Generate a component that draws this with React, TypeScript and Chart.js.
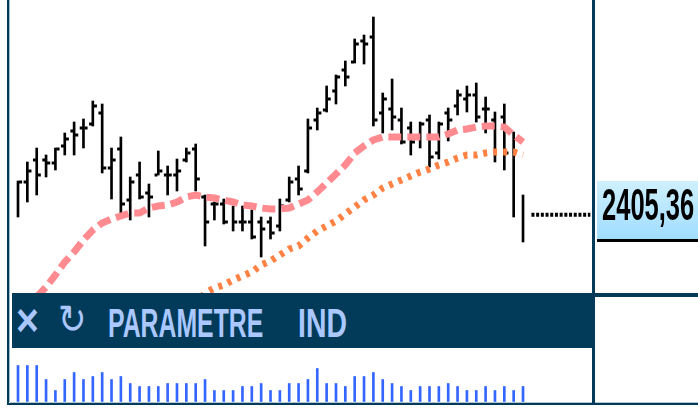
import React, { useEffect, useRef } from "react";
import { Chart, registerables } from "chart.js";

Chart.register(...registerables);

const highs = [2439,2458,2472,2465,2472,2487,2498,2501,2519,2516,2472,2483,2443,2458,2436,2469,2454,2461,2472,2476,2425,2418,2421,2414,2414,2410,2403,2403,2421,2443,2454,2501,2512,2534,2545,2559,2581,2585,2603,2527,2541,2512,2498,2498,2505,2498,2512,2530,2534,2537,2523,2508,2516,2488,2425];
const lows = [2403,2418,2425,2443,2450,2465,2465,2472,2494,2447,2421,2407,2400,2421,2403,2445,2425,2429,2458,2429,2374,2400,2396,2389,2389,2381,2363,2381,2389,2418,2425,2447,2490,2508,2516,2534,2557,2556,2494,2487,2490,2476,2465,2472,2453,2461,2479,2505,2508,2498,2487,2458,2450,2403,2378];
const opens = [null,2438,2460,2460,2457,2474,2489,2492,2496,2507,2452,2471,2420,2445,2427,2445,2445,2445,2460,2471,2423,2416,2416,null,2398,2398,2398,2398,2394,2420,2441,2449,2500,2510,2529,2550,2558,2579,2583,2507,2511,2500,2492,2482,2500,2467,2507,2514,2521,2525,2511,2500,2503,null,null];
const closes = [2438,2449,2445,2457,2471,2481,2485,2492,2514,2452,2460,2416,2438,2423,2423,2449,2445,2449,2467,2441,2398,2416,2398,2398,2398,2383,2391,2387,2414,2438,2431,2492,2507,2521,2543,2543,2576,2576,2500,2521,2503,2478,2478,2496,2463,2496,2500,2525,2525,2503,2511,null,2467,null,null];
const maFast = [null,null,2323,2333,2345,2358,2368,2380,2390,2397,2401,2404,2407,2407,2412,2414,2415,2418,2423,2425,2423,2422,2420,2418,2415,2414,2412,2411,2411,2412,2416,2420,2428,2437,2446,2455,2467,2474,2480,2483,2483,2483,2483,2483,2483,2483,2486,2490,2491,2493,2494,2494,2493,2485,2478];
const maSlow = [null,null,null,null,null,null,null,null,null,null,null,null,null,null,null,null,null,null,null,2315,2327,2332,2335,2340,2344,2348,2355,2359,2365,2371,2374,2382,2389,2394,2399,2406,2413,2420,2425,2432,2436,2440,2444,2448,2451,2455,2458,2462,2465,2465,2467,2468,2468,2468,2465];
const volumes = [36,36,36,22,11,22,29,22,25,29,22,25,18,15,15,15,18,18,18,18,22,11,11,11,15,15,18,11,11,18,18,22,33,18,18,15,25,25,29,22,18,15,11,15,15,15,18,15,11,11,15,11,15,11,15];
const lastPrice = 2405.36;
const lastPriceLabel = "2405,36";
const lastPriceSpan = [54.9, 61.2];
const panelItems = ["PARAMETRE", "IND"];

const NAVY = "#023B5A";
const FONT = '"Liberation Sans", Arial, sans-serif';

export default function App() {
  const ref = useRef<HTMLCanvasElement | null>(null);

  useEffect(() => {
    const xy = (arr: (number | null)[], dx = 0) =>
      arr.map((y, i) => ({ x: i + dx, y }));
    const chart = new Chart(ref.current!, {
      type: "bar",
      data: {
        datasets: [
          {
            type: "line",
            data: xy(maSlow),
            borderColor: "#FF8244",
            borderWidth: 7,
            borderDash: [4, 6],
            pointRadius: 0,
            order: 0,
          },
          {
            type: "line",
            data: xy(maFast),
            borderColor: "#FF8A8F",
            borderWidth: 7,
            borderDash: [13, 6],
            pointRadius: 0,
            order: 1,
          },
          {
            type: "line",
            data: xy(opens, -0.24),
            showLine: false,
            pointStyle: "line",
            pointRadius: 1.5,
            pointBorderWidth: 3,
            pointBorderColor: "#000",
            order: 3,
          },
          {
            type: "line",
            data: xy(closes, 0.27),
            showLine: false,
            pointStyle: "line",
            pointRadius: 1.6,
            pointBorderWidth: 3,
            pointBorderColor: "#000",
            order: 3,
          },
          {
            type: "bar",
            data: highs.map((h, i) => ({ x: i, y: [lows[i], h] })),
            backgroundColor: "#000",
            barThickness: 2,
            grouped: false,
            order: 4,
          },
          {
            type: "bar",
            yAxisID: "vol",
            data: xy(volumes),
            backgroundColor: "#3366FF",
            barThickness: 2,
            grouped: false,
            order: 4,
          },
          {
            type: "line",
            data: lastPriceSpan.map((x) => ({ x, y: lastPrice })),
            borderColor: "#000",
            borderWidth: 4,
            borderDash: [3, 1.7],
            pointRadius: 0,
            order: 2,
          },
        ],
      } as any,
      options: {
        responsive: false,
        animation: false,
        events: [],
        layout: { padding: 0, autoPadding: false },
        plugins: { legend: { display: false }, tooltip: { enabled: false } },
        scales: {
          x: { type: "linear", offset: false, min: -1.925, max: 72.71, display: false },
          y: { type: "linear", min: 2212, max: 2620, display: false },
          vol: { type: "linear", min: -6.5, max: 401.5, display: false },
        },
      } as any,
    });
    return () => chart.destroy();
  }, []);

  const box = (left: number, top: number, width: number, height: number, background: string): React.CSSProperties => ({
    position: "absolute",
    left,
    top,
    width,
    height,
    background,
  });
  const label = (left: number, top: number, size: number, sx: number, color: string, weight = 700): React.CSSProperties => ({
    position: "absolute",
    left,
    top,
    fontFamily: FONT,
    fontSize: size,
    fontWeight: weight,
    lineHeight: `${size}px`,
    color,
    whiteSpace: "pre",
    transform: `scaleX(${sx})`,
    transformOrigin: "0 0",
  });

  return (
    <div style={{ position: "fixed", left: 0, top: 0, width: 698, height: 408, overflow: "hidden", background: "#fff" }}>
      <canvas ref={ref} width={698} height={408} style={{ position: "absolute", left: 0, top: 0, display: "block" }} />
      <div style={box(7, 0, 2, 404, NAVY)} />
      <div style={box(9, 0, 1, 402, "#9DBCCB")} />
      <div style={box(10, 402, 688, 1, "#B4C6D0")} />
      <div style={box(7, 403, 691, 2, NAVY)} />
      <div style={box(592, 0, 3, 403, NAVY)} />
      <div style={box(595, 293, 103, 4, NAVY)} />
      <div style={box(12, 293, 581, 55, NAVY)} />
      <div style={label(16, 297, 46, 0.85, "#AAC8FF")}>×</div>
      <div style={label(58, 299, 40, 0.85, "#AAC8FF", 400)}>↻</div>
      <div style={label(108, 303, 40, 0.62, "#AAC8FF")}>{panelItems[0]}</div>
      <div style={label(298, 303, 40, 0.71, "#AAC8FF")}>{panelItems[1]}</div>
      <div
        style={{
          ...box(597, 181, 101, 58, "linear-gradient(#CFF0FF, #A0DDFF)"),
          borderBottom: "3px solid #000",
        }}
      />
      <div style={label(602, 183, 44, 0.58, "#000")}>{lastPriceLabel}</div>
    </div>
  );
}
